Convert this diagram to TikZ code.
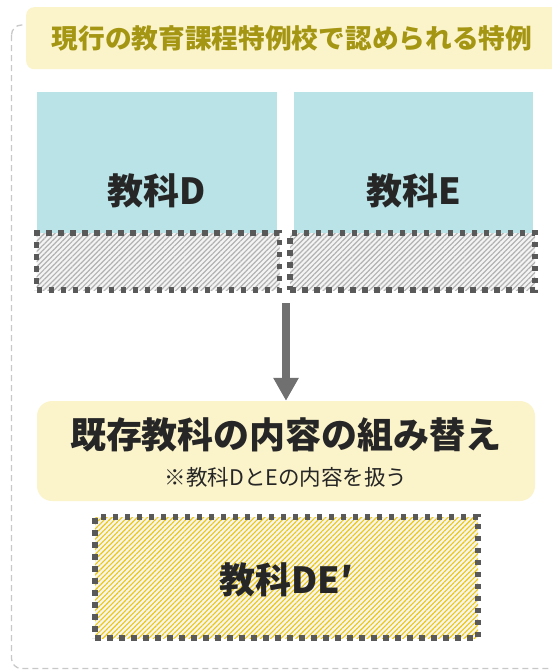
\documentclass[tikz,border=0pt]{standalone}
\usepackage{fontspec}
\newfontfamily\jp{Noto Sans CJK JP}
\usetikzlibrary{patterns.meta,arrows.meta}
\definecolor{hdrfill}{RGB}{251,243,202}
\definecolor{hdrtext}{RGB}{164,150,18}
\definecolor{bluefill}{RGB}{185,227,231}
\definecolor{dotgray}{RGB}{89,89,89}
\definecolor{hatchgray}{RGB}{178,178,178}
\definecolor{hatchbg}{RGB}{244,244,244}
\definecolor{hatchyel}{RGB}{238,200,10}
\definecolor{txt}{RGB}{38,38,38}
\definecolor{framegray}{RGB}{200,200,200}
\definecolor{arrowgray}{RGB}{112,112,112}
\begin{document}
\begin{tikzpicture}[x=1pt,y=-1pt,
  bluebox/.style={fill=bluefill, draw=none, inner sep=0pt},
  dotbox/.style={draw=dotgray, line width=5.5pt, dash pattern=on 5.5pt off 6.5pt, inner sep=0pt},
  grayhatch/.style={dotbox, preaction={fill=hatchbg}, pattern={Lines[angle=45,distance=3.6pt,line width=1.2pt]}, pattern color=hatchgray},
  yelhatch/.style={dotbox, preaction={fill=hatchbg}, pattern={Lines[angle=45,distance=3.6pt,line width=1.1pt]}, pattern color=hatchyel},
  yelbox/.style={fill=hdrfill, draw=none, inner sep=0pt},
  bigtxt/.style={font=\jp\bfseries\fontsize{36}{42}\selectfont, text=txt, inner sep=0pt},
  flow/.style={-{Triangle[width=24pt,length=23pt]}, line width=8pt, draw=arrowgray}
]
\useasboundingbox (0,0) rectangle (552,670);
\clip (0,0) rectangle (552,670);
% outer dashed frame
\draw[framegray, line width=1.3pt, dash pattern=on 6pt off 4pt, rounded corners=10pt] (11.5,25) rectangle (620,668.5);
% header
\node[yelbox, rounded corners=8pt, minimum width=560pt, minimum height=62pt, anchor=north west] (hdr) at (26,7) {};
\node[font=\jp\bfseries\fontsize{26.7}{30}\selectfont, text=hdrtext, inner sep=0pt] (hdrT) at (292,38) {現行の教育課程特例校で認められる特例};
% blue boxes
\node[bluebox, minimum width=240pt, minimum height=141pt] (D) at (157,162.5) {};
\node[bluebox, minimum width=239pt, minimum height=141pt] (E) at (413.5,162.5) {};
\node[bigtxt] (tD) at (157,191) {教科D};
\node[bigtxt] (tE) at (413.5,191) {教科E};
% hatched boxes
\node[grayhatch, minimum width=243pt, minimum height=57pt] (hD) at (158,261.5) {};
\node[grayhatch, minimum width=245pt, minimum height=57pt] (hE) at (412.5,261.5) {};
% middle box
\node[yelbox, rounded corners=15pt, minimum width=498pt, minimum height=100pt] (mid) at (286,451) {};
\node[font=\jp\bfseries\fontsize{36}{42}\selectfont, text=txt, inner sep=0pt] (midT) at (286,435) {既存教科の内容の組み替え};
\node[font=\jp\fontsize{21.5}{26}\selectfont, text=txt, inner sep=0pt] (midS) at (286,477) {※教科DとEの内容を扱う};
% arrow
\coordinate (a0) at (286,303);
\draw[flow] (a0) -- (mid.north);
% bottom box
\node[yelhatch, minimum width=383pt, minimum height=121pt] (de) at (286.5,577.5) {};
\node[bigtxt] (deT) at (286,580) {教科DE′};
\end{tikzpicture}
\end{document}
